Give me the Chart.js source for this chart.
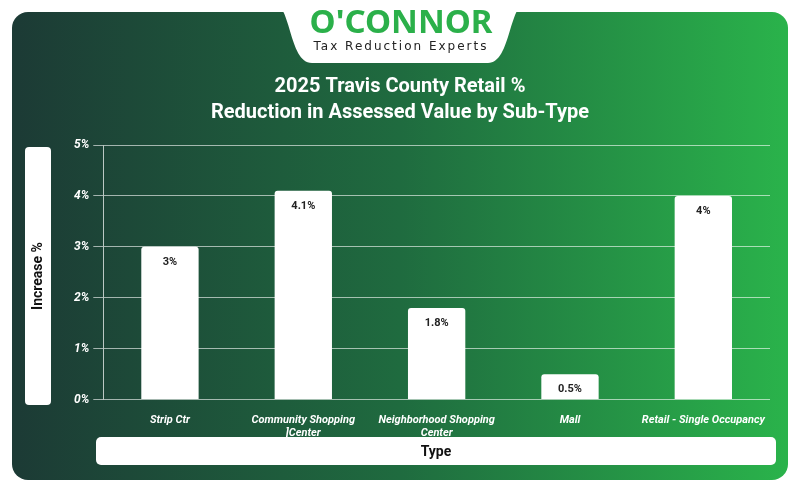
<!DOCTYPE html>
<html><head><meta charset="utf-8">
<script src="https://cdn.jsdelivr.net/npm/chart.js@4"></script>
<style>html,body{margin:0;padding:0;background:#fff}#w{width:800px;height:492px}</style>
</head><body><div id="w"><canvas id="c"></canvas></div>
<script>
const categories = [["Strip Ctr"], ["Community Shopping", "]Center"], ["Neighborhood Shopping", "Center"], ["Mall"], ["Retail - Single Occupancy"]];
const values = [3, 4.1, 1.8, 0.5, 4];
const valueLabels = ["3%", "4.1%", "1.8%", "0.5%", "4%"];
const yTicks = [0, 1, 2, 3, 4, 5];

function rr(ctx,x,y,w,h,r){ctx.beginPath();ctx.moveTo(x+r,y);ctx.arcTo(x+w,y,x+w,y+h,r);ctx.arcTo(x+w,y+h,x,y+h,r);ctx.arcTo(x,y+h,x,y,r);ctx.arcTo(x,y,x+w,y,r);ctx.closePath();}

const bg = {id:'bg', beforeDraw(chart){
  const ctx=chart.ctx; ctx.save();
  ctx.fillStyle='#fff'; ctx.fillRect(0,0,800,492);
  const g=ctx.createLinearGradient(12,0,788,0);
  g.addColorStop(0,'#1c3a35'); g.addColorStop(0.5,'#1f6b3f'); g.addColorStop(1,'#2ab34b');
  ctx.fillStyle=g; rr(ctx,12,12,776,468,16); ctx.fill();
  ctx.fillStyle='#fff'; ctx.beginPath();
  ctx.moveTo(270,0); ctx.lineTo(530,0);
  ctx.bezierCurveTo(508,0,512,63,488,63); ctx.lineTo(312,63);
  ctx.bezierCurveTo(288,63,292,0,270,0); ctx.closePath(); ctx.fill();
  ctx.textAlign='center'; ctx.textBaseline='middle';
  ctx.fillStyle='#2bb04a'; ctx.font='bold 33px "Noto Sans", sans-serif';
  ctx.fillText("O'CONNOR",401,24);
  ctx.fillStyle='#222'; ctx.font='12px "DejaVu Sans", sans-serif';
  ctx.letterSpacing='2px'; ctx.fillText('Tax Reduction Experts',401,47); ctx.letterSpacing='0px';
  ctx.fillStyle='#fff'; ctx.font='bold 20px Roboto, sans-serif';
  ctx.fillText('2025 Travis County Retail %',400,87);
  ctx.fillText('Reduction in Assessed Value by Sub-Type',400,113);
  rr(ctx,25,147,26,258,4); ctx.fill();
  rr(ctx,96,437,680,28,5); ctx.fill();
  ctx.fillStyle='#111'; ctx.font='bold 14px Roboto, sans-serif';
  ctx.fillText('Type',436,452);
  ctx.translate(38,276); ctx.rotate(-Math.PI/2); ctx.fillText('Increase %',0,0);
  ctx.restore();
}};
const vl = {id:'vl', afterDatasetsDraw(chart){
  const ctx=chart.ctx; ctx.save(); ctx.fillStyle='#222'; ctx.font='bold 11px Roboto, sans-serif';
  ctx.textAlign='center'; ctx.textBaseline='top';
  chart.getDatasetMeta(0).data.forEach((b,i)=>ctx.fillText(valueLabels[i],b.x,b.y+10));
  ctx.restore();
}};
Chart.defaults.font.family='Roboto, sans-serif';
new Chart(document.getElementById('c'),{
  type:'bar',
  data:{labels:categories,datasets:[{data:values,backgroundColor:'#fff',borderRadius:{topLeft:3,topRight:3},barPercentage:0.43,categoryPercentage:1}]},
  options:{responsive:true,maintainAspectRatio:false,animation:false,
    layout:{padding:{left:70,right:30,top:145,bottom:46}},
    plugins:{legend:{display:false},tooltip:{enabled:false}},
    scales:{
      x:{grid:{display:false},border:{display:false},
        ticks:{color:'#fff',font:{size:11,weight:'bold',style:'italic'},maxRotation:0,autoSkip:false,padding:6}},
      y:{min:0,max:5,afterBuildTicks(s){s.ticks=yTicks.map(v=>({value:v}));},
        grid:{color:'rgba(255,255,255,0.6)',tickLength:10,lineWidth:1},
        border:{color:'rgba(255,255,255,0.7)'},
        ticks:{color:'#fff',font:{size:12,weight:'bold',style:'italic'},padding:4,callback:v=>v+'%'}}
    }},
  plugins:[bg,vl]
});
</script></body></html>
